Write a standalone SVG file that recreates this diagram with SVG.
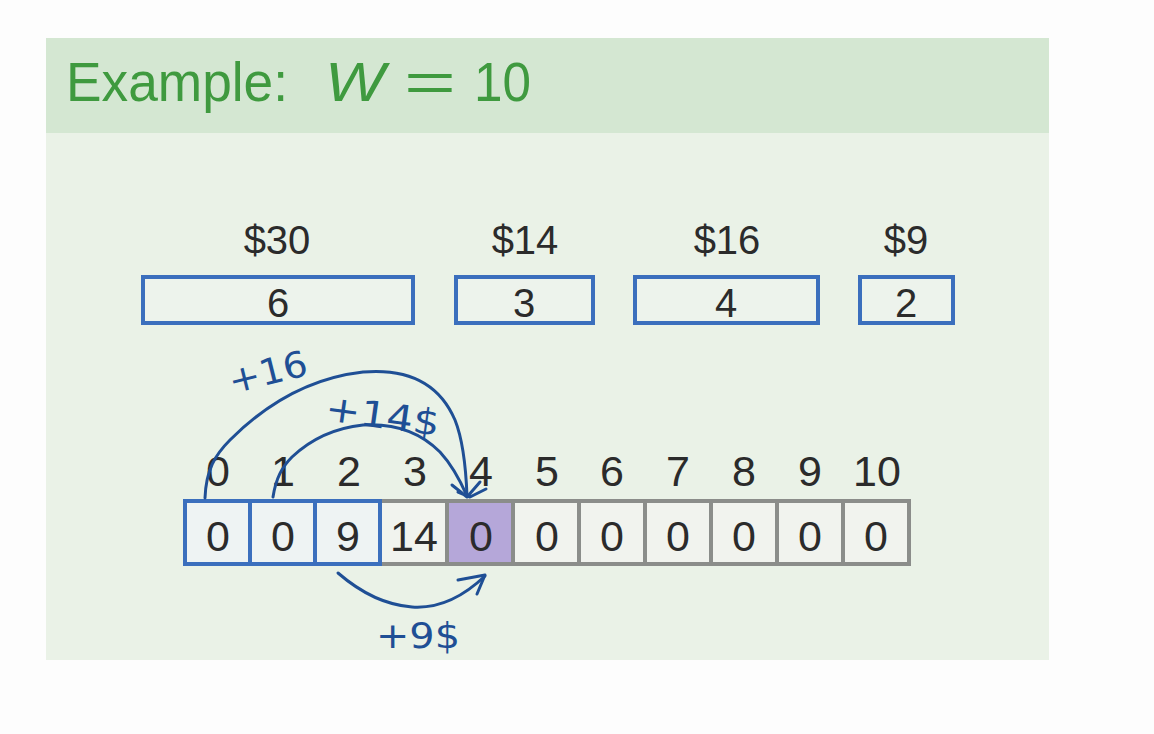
<svg xmlns="http://www.w3.org/2000/svg" width="1154" height="734" viewBox="0 0 1154 734">
  <defs>
    <style>
      .title { font-family: "Liberation Sans", Arial, sans-serif; fill: #3f9a3f; font-size: 56px; }
      .lbl { font-family: "Liberation Sans", Arial, sans-serif; fill: #2b2b2b; font-size: 40px; text-anchor: middle; }
      .idx { font-family: "Liberation Sans", Arial, sans-serif; fill: #2b2b2b; font-size: 43px; text-anchor: middle; }
      .item { fill: #edf3ec; stroke: #3b6fbd; stroke-width: 4; }
      .cellb { fill: #eef3f3; stroke: #3b6fbd; stroke-width: 4; }
      .cellg { fill: #f1f3ee; stroke: #8b8d8a; stroke-width: 4; }
      .cellp { fill: #b5a7d9; stroke: #8b8d8a; stroke-width: 4; }
      .ink { fill: none; stroke: #1f4f95; stroke-width: 3; stroke-linecap: round; stroke-linejoin: round; }
      .hand { font-family: "DejaVu Sans", sans-serif; fill: #1f4f95; font-size: 36px; }
    </style>
  </defs>
  <rect x="0" y="0" width="1154" height="734" fill="#fdfdfd"/>
  <rect x="46" y="38" width="1003" height="622" fill="#eaf2e7"/>
  <rect x="46" y="38" width="1003" height="95" fill="#d4e7d2"/>

  <g id="title">
    <text class="title" x="66" y="101" textLength="222" lengthAdjust="spacingAndGlyphs">Example:</text>
    <text class="title" x="325" y="101" font-style="italic" textLength="60" lengthAdjust="spacingAndGlyphs">W</text>
    <text class="title" x="404" y="101" textLength="52" lengthAdjust="spacingAndGlyphs">=</text>
    <text class="title" x="474" y="101" textLength="57" lengthAdjust="spacingAndGlyphs">10</text>
  </g>

  <g id="item1">
    <text class="lbl" x="277" y="254">$30</text>
    <rect class="item" x="143" y="277" width="270" height="46"/>
    <text class="lbl" x="278" y="317">6</text>
  </g>
  <g id="item2">
    <text class="lbl" x="525" y="254">$14</text>
    <rect class="item" x="456" y="277" width="137" height="46"/>
    <text class="lbl" x="524" y="317">3</text>
  </g>
  <g id="item3">
    <text class="lbl" x="727" y="254">$16</text>
    <rect class="item" x="635" y="277" width="183" height="46"/>
    <text class="lbl" x="726" y="317">4</text>
  </g>
  <g id="item4">
    <text class="lbl" x="906" y="254">$9</text>
    <rect class="item" x="860" y="277" width="93" height="46"/>
    <text class="lbl" x="906" y="317">2</text>
  </g>

  <g id="indices">
    <text class="idx" x="218" y="486">0</text>
    <text class="idx" x="283" y="486">1</text>
    <text class="idx" x="349" y="486">2</text>
    <text class="idx" x="415" y="486">3</text>
    <text class="idx" x="481" y="486">4</text>
    <text class="idx" x="547" y="486">5</text>
    <text class="idx" x="612" y="486">6</text>
    <text class="idx" x="678" y="486">7</text>
    <text class="idx" x="744" y="486">8</text>
    <text class="idx" x="810" y="486">9</text>
    <text class="idx" x="877" y="486">10</text>
  </g>

  <g id="cells">
    <rect class="cellg" x="513" y="501" width="66" height="63"/>
    <rect class="cellg" x="579" y="501" width="66" height="63"/>
    <rect class="cellg" x="645" y="501" width="66" height="63"/>
    <rect class="cellg" x="711" y="501" width="66" height="63"/>
    <rect class="cellg" x="777" y="501" width="66" height="63"/>
    <rect class="cellg" x="843" y="501" width="66" height="63"/>
    <rect class="cellg" x="380" y="501" width="67" height="63"/>
    <rect class="cellp" x="447" y="501" width="66" height="63"/>
    <rect class="cellb" x="185" y="501" width="65" height="63"/>
    <rect class="cellb" x="250" y="501" width="65" height="63"/>
    <rect class="cellb" x="315" y="501" width="65" height="63"/>
    <text class="idx" x="218" y="551">0</text>
    <text class="idx" x="283" y="551">0</text>
    <text class="idx" x="348" y="551">9</text>
    <text class="idx" x="414" y="551">14</text>
    <text class="idx" x="481" y="551" fill="#3a2f66">0</text>
    <text class="idx" x="547" y="551">0</text>
    <text class="idx" x="612" y="551">0</text>
    <text class="idx" x="678" y="551">0</text>
    <text class="idx" x="744" y="551">0</text>
    <text class="idx" x="810" y="551">0</text>
    <text class="idx" x="876" y="551">0</text>
  </g>

  <g id="connectors">
    <path class="ink" d="M205,498 C206,470 215,455 230,440 C265,405 310,378 363,372 C410,368 440,385 455,420 C463,440 466,470 467,496"/>
    <path class="ink" d="M273,497 C276,478 282,467 292,457 C310,440 335,428 363,425 C395,423 420,432 440,452 C452,465 460,480 467,496"/>
    <path class="ink" d="M452,485 L467,497 L480,482 M458,492 L470,497 L486,489"/>
    <path class="ink" d="M338,573 C360,592 385,605 412,607 C440,609 465,595 485,576"/>
    <path class="ink" d="M458,580 L485,575 L477,594"/>
  </g>

  <g id="annotations">
    <text class="hand" x="232" y="394" transform="rotate(-14 232 394)" textLength="80" lengthAdjust="spacingAndGlyphs">+16</text>
    <text class="hand" x="324" y="420" transform="rotate(8 324 420)" textLength="115" lengthAdjust="spacingAndGlyphs">+14$</text>
    <text class="hand" x="376" y="648" textLength="84" lengthAdjust="spacingAndGlyphs">+9$</text>
  </g>
</svg>
